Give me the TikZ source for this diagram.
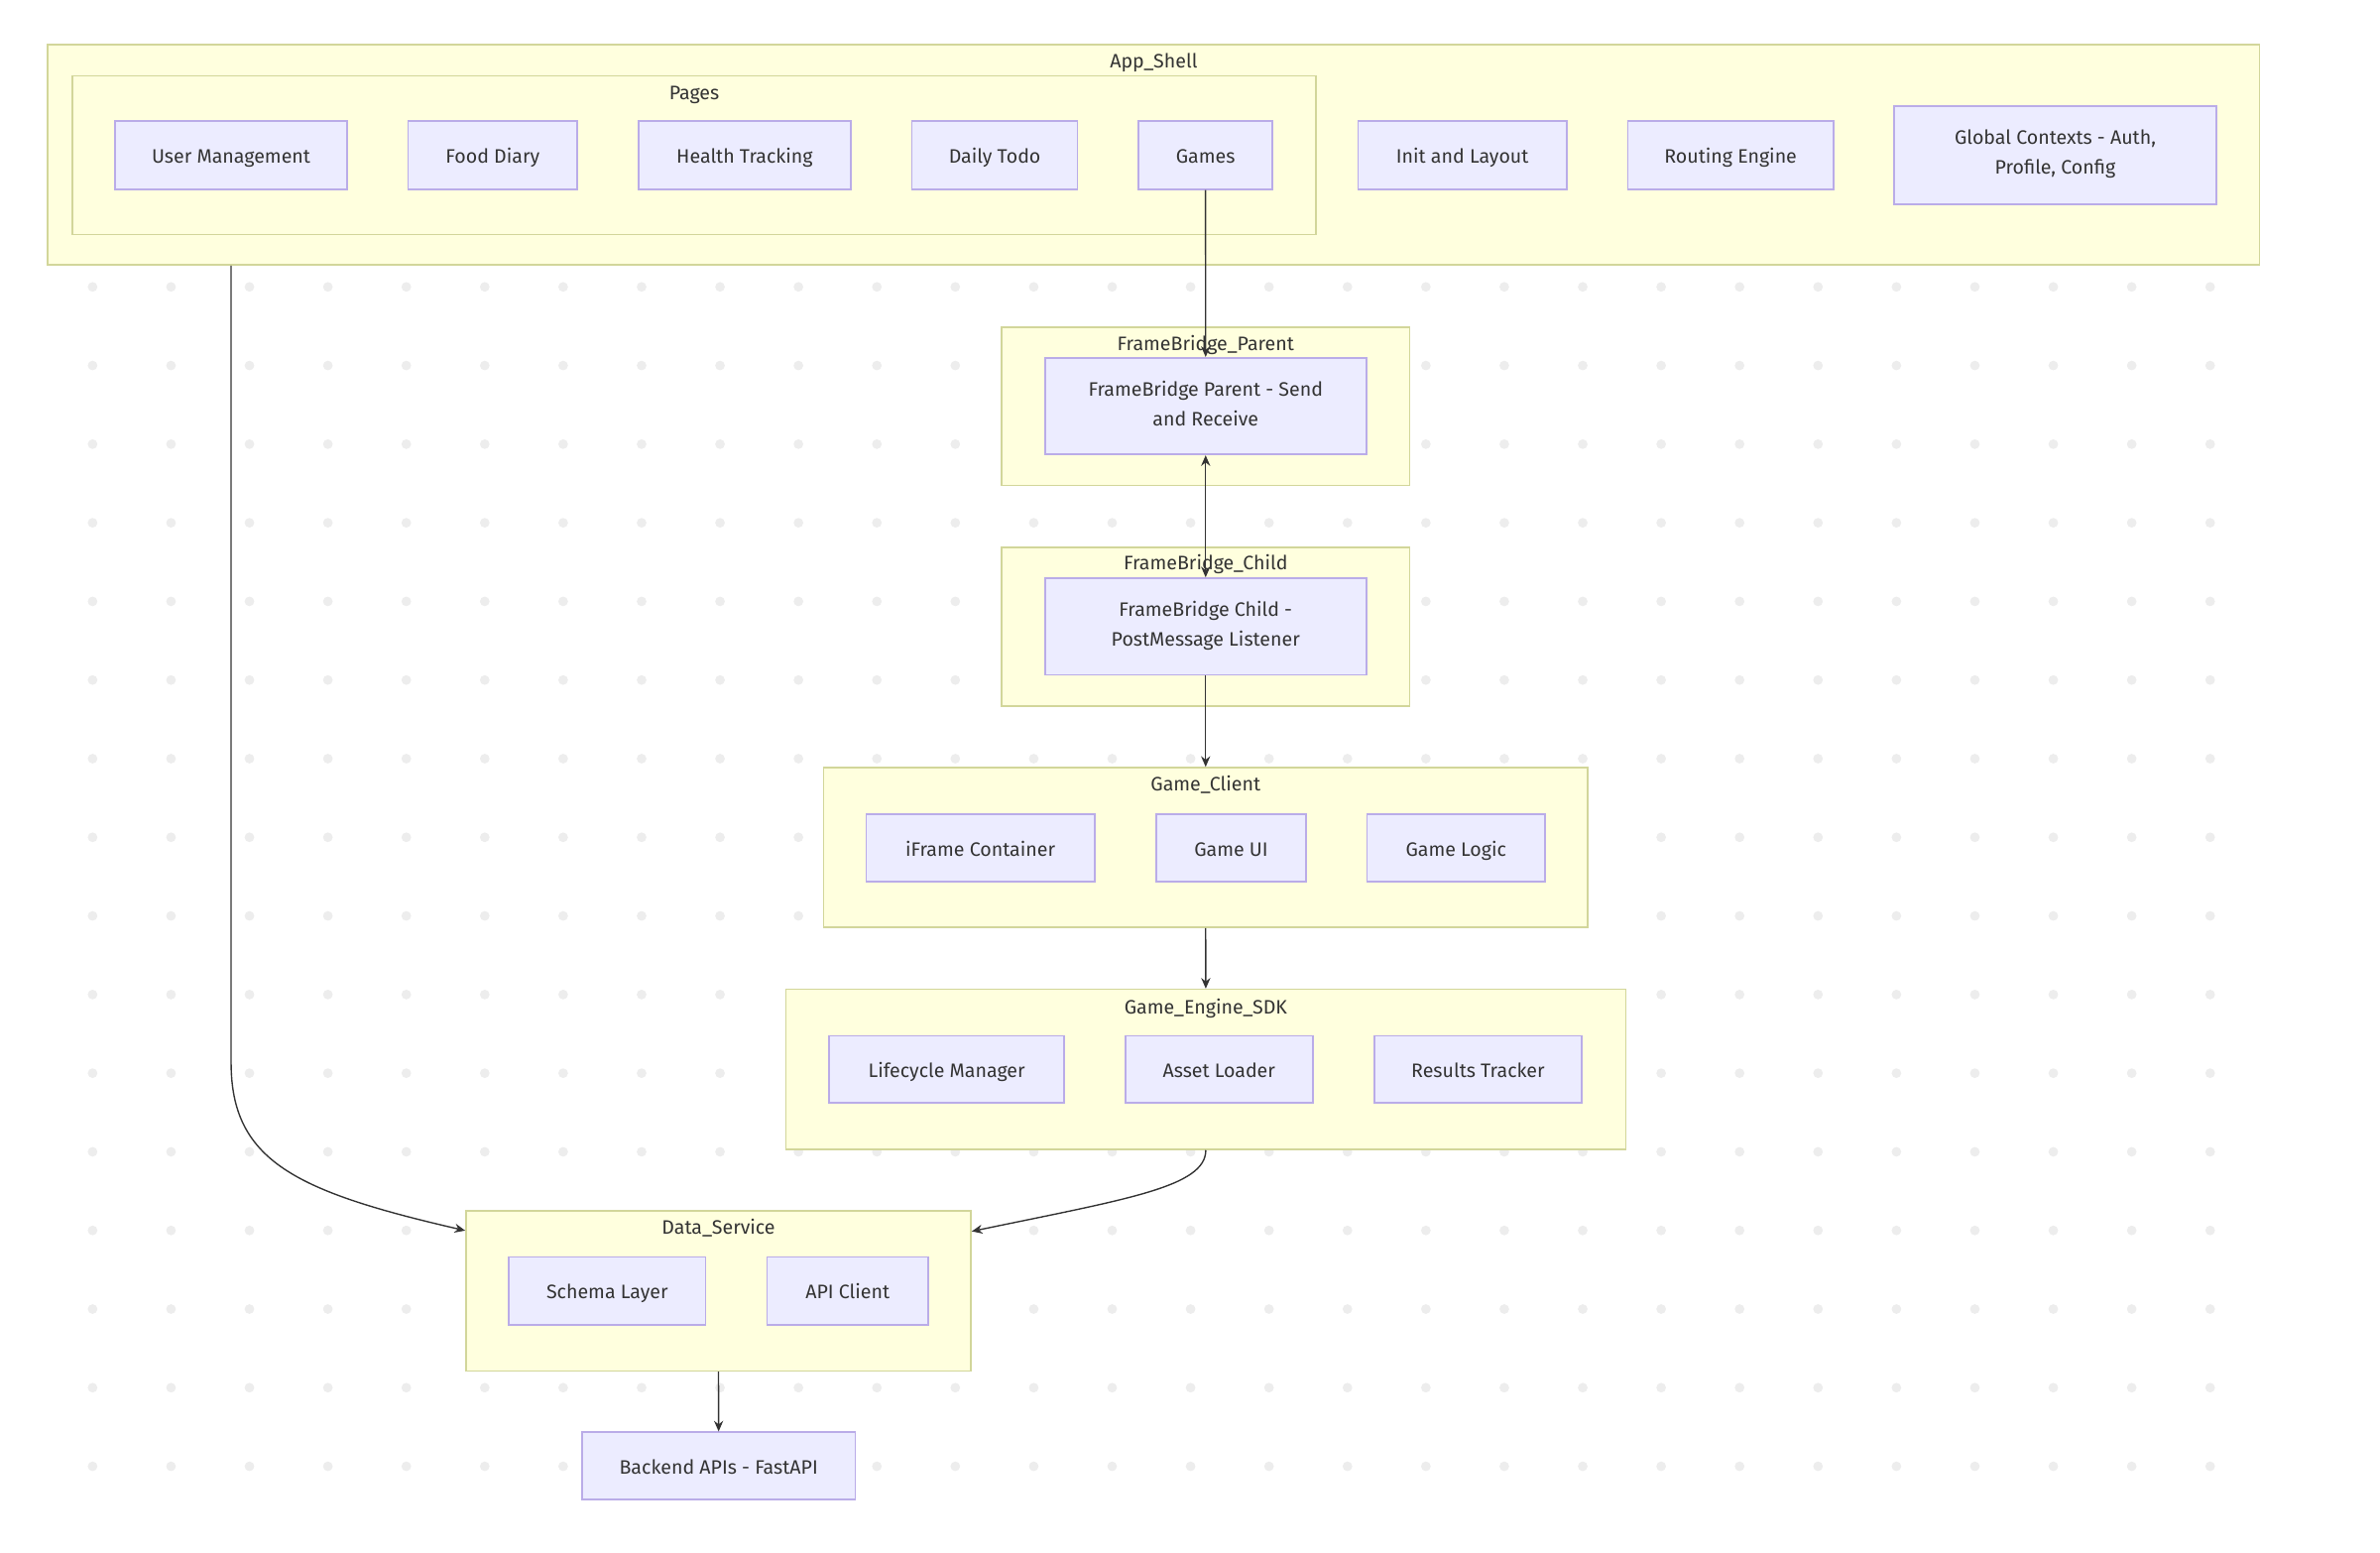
\documentclass[tikz,border=0pt]{standalone}
\usepackage{fontspec}
\setmainfont{Fira Sans}
\usetikzlibrary{arrows.meta}

\definecolor{clusterfill}{HTML}{FFFFDE}
\definecolor{clusterline}{HTML}{D2D69A}
\definecolor{boxfill}{HTML}{ECECFF}
\definecolor{boxline}{HTML}{BAACE8}
\definecolor{inkgray}{HTML}{333333}
\definecolor{dotgray}{HTML}{EDEDED}

\newcommand\topstrut{\rule{0pt}{14.5pt}}
\newcommand\botstrut{\rule[-3.8pt]{0pt}{3.8pt}}

\tikzset{
  cluster/.style={draw=clusterline, fill=clusterfill, line width=1pt, inner sep=0pt},
  box/.style={draw=boxline, fill=boxfill, line width=1.1pt, text=inkgray, align=center,
    inner sep=0pt, font=\fontsize{12.8}{19.5}\selectfont,
    execute at begin node=\topstrut, execute at end node=\botstrut},
  title/.style={text=inkgray, inner sep=0pt, font=\fontsize{12.8}{19.5}\selectfont,
    execute at begin node=\topstrut, execute at end node=\botstrut},
  wh/.style 2 args={minimum width=#1pt, minimum height=#2pt},
  edge/.style={draw=inkgray, line width=0.9pt, -{Stealth[length=7pt, width=6pt]}}
}

\begin{document}
\begin{tikzpicture}[x=1pt, y=-1pt]
		\useasboundingbox (0,0) rectangle (1568,1023);
		% dotted background
		\foreach \i in {0,...,27}
		  \foreach \j in {0,...,15}
		    \fill[dotgray] (61+51.67*\i, 189+51.8*\j) circle (3.2pt);

		% App_Shell
		\node[cluster, wh={1457.2}{145}] (appshell) at (760.1, 102) {};
		\node[title] (t-appshell) at (760.1, 39.6) {App\_Shell};
		\node[cluster, wh={819.1}{104.5}] (pages) at (457.35, 102.15) {};
		\node[title] (t-pages) at (457.35, 60.1) {Pages};
		\node[box, wh={152.9}{44.9}] (usermgmt) at (152.25, 102.15) {User Management};
		\node[box, wh={111.4}{44.9}] (fooddiary) at (324.6, 102.15) {Food Diary};
		\node[box, wh={140}{44.9}] (health) at (490.6, 102.15) {Health Tracking};
		\node[box, wh={109.1}{44.9}] (todo) at (655.35, 102.15) {Daily Todo};
		\node[box, wh={88.2}{44.9}] (games) at (794.2, 102.15) {Games};
		\node[box, wh={137.5}{44.9}] (initlayout) at (963.45, 102.15) {Init and Layout};
		\node[box, wh={135.3}{44.9}] (routing) at (1140.15, 102.15) {Routing Engine};
		\node[box, wh={212}{64.7}] (contexts) at (1354, 102.05) {Global Contexts - Auth,\\Profile, Config};

		% FrameBridge
		\node[cluster, wh={268.8}{104.1}] (fbparent) at (794.3, 267.65) {};
		\node[title] (t-fbparent) at (794.3, 225.4) {FrameBridge\_Parent};
		\node[box, wh={211.8}{63.7}] (fbp) at (794.3, 267.55) {FrameBridge Parent - Send\\and Receive};
		\node[cluster, wh={268.8}{104.4}] (fbchild) at (794.3, 412.8) {};
		\node[title] (t-fbchild) at (794.3, 370.2) {FrameBridge\_Child};
		\node[box, wh={211.8}{63.6}] (fbc) at (794.3, 412.7) {FrameBridge Child -\\PostMessage Listener};

		% Game_Client
		\node[cluster, wh={503.4}{105.2}] (gclient) at (794.3, 558.3) {};
		\node[title] (t-gclient) at (794.3, 515.5) {Game\_Client};
		\node[box, wh={150.4}{44.2}] (iframe) at (645.9, 558.5) {iFrame Container};
		\node[box, wh={99}{44.2}] (gameui) at (811.1, 558.5) {Game UI};
		\node[box, wh={117.1}{44.2}] (gamelogic) at (959.25, 558.5) {Game Logic};

		% Game_Engine_SDK
		\node[cluster, wh={553.2}{105.4}] (sdk) at (794.4, 704.5) {};
		\node[title] (t-sdk) at (794.4, 662.5) {Game\_Engine\_SDK};
		\node[box, wh={154.5}{44}] (lifecycle) at (623.65, 704.3) {Lifecycle Manager};
		\node[box, wh={123.4}{44}] (assets) at (803.1, 704.3) {Asset Loader};
		\node[box, wh={136.9}{44}] (results) at (973.75, 704.3) {Results Tracker};

		% Data_Service
		\node[cluster, wh={332.7}{105.4}] (dataservice) at (473.35, 850.4) {};
		\node[title] (t-dataservice) at (473.35, 808) {Data\_Service};
		\node[box, wh={129.5}{44.7}] (schema) at (400.05, 850.35) {Schema Layer};
		\node[box, wh={106.1}{44.7}] (apiclient) at (558.45, 850.35) {API Client};
		\node[box, wh={179.9}{44.4}] (backend) at (473.45, 965.8) {Backend APIs - FastAPI};

		% connectors
		\draw[edge] (games.south) -- (fbp.north);
		\draw[edge, {Stealth[length=7pt, width=6pt]}-{Stealth[length=7pt, width=6pt]}] (fbp.south) -- (fbc.north);
		\draw[edge] (fbc.south) -- (gclient.north);
		\draw[edge] (gclient.south) -- (sdk.north);
		\draw[edge] (appshell.south -| usermgmt.south) -- (152.25, 700)
		  .. controls (152.25, 765) and (195, 785) .. ([yshift=-13.5pt]dataservice.north west);
		\draw[edge] (sdk.south) .. controls (794.4, 782) and (742, 790) .. ([yshift=-14pt]dataservice.north east);
		\draw[edge] (dataservice.south) -- (backend.north);
		\end{tikzpicture}
\end{document}
